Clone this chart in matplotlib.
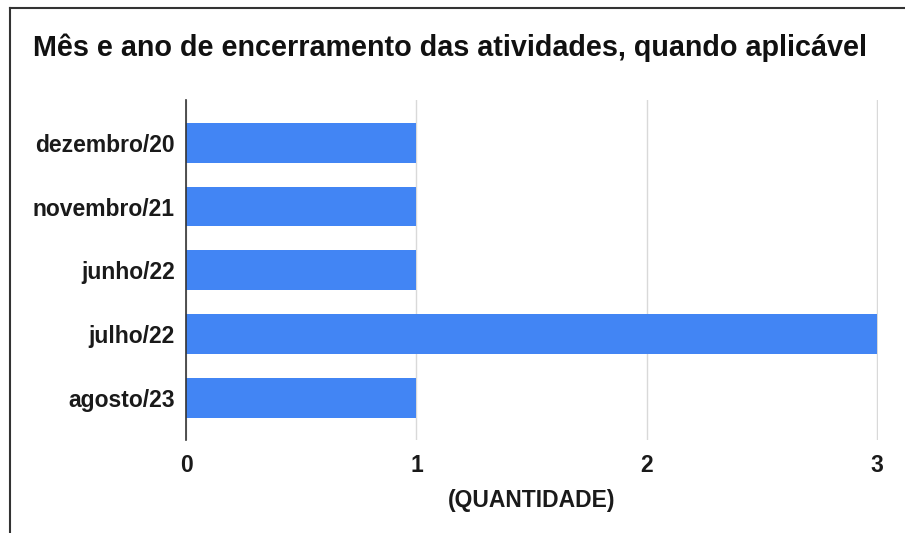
import matplotlib
matplotlib.use("Agg")
import matplotlib.pyplot as plt
from matplotlib.lines import Line2D

categories = ["dezembro/20", "novembro/21", "junho/22", "julho/22", "agosto/23"]
values = [1, 1, 1, 3, 1]
xticks = [0, 1, 2, 3]
title = "Mês e ano de encerramento das atividades, quando aplicável"
xlabel = "(QUANTIDADE)"

plt.rcParams['font.family'] = ['Liberation Sans', 'DejaVu Sans']

W, H = 905, 533
fig = plt.figure(figsize=(W / 100, H / 100), dpi=100)
fig.patch.set_facecolor("white")

left, right = 186 / W, 878 / W
top, bottom = 1 - 100 / H, 1 - 440 / H
ax = fig.add_axes([left, bottom, right - left, top - bottom])

y = list(range(len(categories)))
ax.barh(y, values, height=0.625, color="#4285f4", zorder=3)
ax.set_ylim(4.66, -0.67)
ax.set_xlim(0, 3.003)
ax.set_yticks(y)
ax.set_yticklabels(categories, fontsize=16.5, fontweight="bold", color="#1a1a1a")
ax.set_xticks(xticks)
ax.set_xticklabels([str(t) for t in xticks], fontsize=16.5, fontweight="bold", color="#1a1a1a")
ax.tick_params(axis="both", length=0)
ax.tick_params(axis="y", pad=8)
ax.tick_params(axis="x", pad=10)
for s in ["top", "right", "bottom"]:
    ax.spines[s].set_visible(False)
ax.spines["left"].set_color("#333333")
ax.spines["left"].set_linewidth(1.2)
ax.spines["left"].set_zorder(4)
ax.grid(axis="x", color="#d9d9d9", linewidth=1, zorder=0)
ax.set_axisbelow(True)
ax.set_xlabel(xlabel, fontsize=16.5, fontweight="bold", color="#1a1a1a", labelpad=9)

fig.text(33 / W, 1 - 48 / H, title, fontsize=20.7, fontweight="bold", color="#111111",
         ha="left", va="center")

# outer frame (left and top edges)
fig.add_artist(Line2D([10 / W, 10 / W], [0, 1 - 8 / H], color="#333333", linewidth=1.5))
fig.add_artist(Line2D([10 / W, 1], [1 - 8 / H, 1 - 8 / H], color="#333333", linewidth=1.5))

fig.savefig("out.png", dpi=100, facecolor="white")
